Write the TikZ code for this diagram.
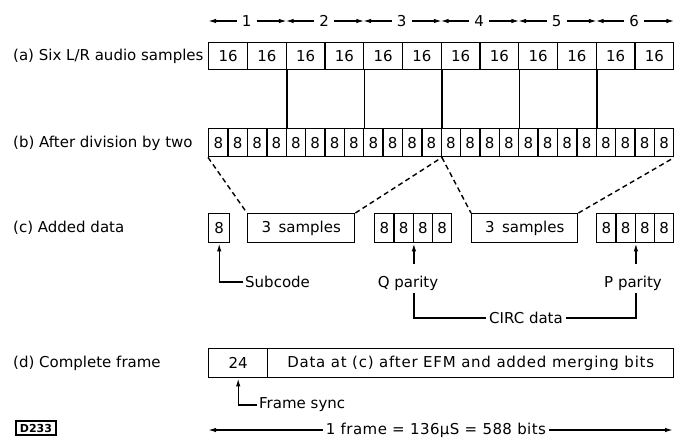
\documentclass[tikz,border=0pt]{standalone}
\usepackage{fontspec}
\setmainfont{DejaVu Sans}
\newfontfamily\widefont[LetterSpace=5]{DejaVu Sans}
\newfontfamily\midfont[LetterSpace=3]{DejaVu Sans}
\usetikzlibrary{arrows.meta}
\begin{document}
\begin{tikzpicture}[x=1pt,y=-1pt,
  every node/.style={font=\fontsize{15}{18}\selectfont},
  cell/.style={draw,line width=1.4pt,inner sep=0pt,anchor=north west},
  rowlbl/.style={inner sep=0pt,anchor=west},
  lbl/.style={inner sep=2pt},
  ln/.style={line width=1.4pt},
  arr/.style={line width=1.4pt,-{Latex[length=8pt,width=4.5pt]}},
  dsh/.style={line width=1.4pt,dash pattern=on 5pt off 3.5pt}]
\useasboundingbox (0,0) rectangle (674,438);

% row labels
\node[rowlbl] (la) at (13,56) {(a) Six L/R audio samples};
\node[rowlbl] (lb) at (13,143) {(b) After division by two};
\node[rowlbl] (lc) at (13,228) {(c) Added data};
\node[rowlbl] (ld) at (13,363) {(d) Complete frame};

% row (a)
\foreach \i in {1,...,12}
  \node[cell,minimum width=38.75pt,minimum height=27pt] (a\i) at ({208+(\i-1)*38.75},42) {16};
% row (b)
\foreach \i in {1,...,24}
  \node[cell,minimum width=19.375pt,minimum height=28pt] (b\i) at ({208+(\i-1)*19.375},128) {8};
% links a -> b
\foreach \k in {2,4,6,8,10} {
  \pgfmathtruncatemacro\m{2*\k}
  \draw[ln] (a\k.south east) -- (b\m.north east);
}

% top numbering
\foreach \k in {1,...,6} {
  \node[inner sep=5pt] (n\k) at ({208+(\k-0.5)*77.5},21) {\k};
  \pgfmathtruncatemacro\l{2*\k-1}
  \pgfmathtruncatemacro\r{2*\k}
  \draw[arr] (n\k.west) -- (a\l.north west |- n\k.west);
  \draw[arr] (n\k.east) -- (a\r.north east |- n\k.east);
}

% row (c)
\node[cell,minimum width=21pt,minimum height=29pt] (c8) at (208,213) {8};
\node[cell,minimum width=107pt,minimum height=29pt] (s1) at (247,213) {3\enspace samples};
\foreach \i in {1,...,4}
  \node[cell,minimum width=19.25pt,minimum height=29pt] (q\i) at ({374+(\i-1)*19.25},213) {8};
\node[cell,minimum width=106pt,minimum height=29pt] (s2) at (471,213) {3\enspace samples};
\foreach \i in {1,...,4}
  \node[cell,minimum width=19.25pt,minimum height=29pt] (p\i) at ({596+(\i-1)*19.25},213) {8};

% dashed expansions
\draw[dsh] (b1.south west) -- (s1.north west);
\draw[dsh] (s1.north east) -- (b12.south east);
\draw[dsh] (b12.south east) -- (s2.north west);
\draw[dsh] (s2.north east) -- (b24.south east);

% subcode
\node[lbl,anchor=west] (subc) at (243,282) {Subcode};
\draw[arr] (subc.west) -| (c8.south);

% parity
\node[lbl] (qlab) at (408,283) {Q parity};
\node[lbl] (plab) at (633,283) {P parity};
\draw[arr] ([yshift=-21pt]q2.south east) -- (q2.south east);
\draw[arr] ([yshift=-21pt]p2.south east) -- (p2.south east);
\node[lbl,inner sep=3pt] (circ) at (526,318) {CIRC data};
\draw[ln] ([yshift=-50pt]q2.south east) |- (circ.west);
\draw[ln] (circ.east) -| ([yshift=-50pt]p2.south east);

% row (d)
\node[cell,minimum width=59pt,minimum height=29pt] (d24) at (208,348) {24};
\node[cell,minimum width=406pt,minimum height=29pt] (dd) at (267,348) {\widefont Data at (c) after EFM and added merging bits};
\node[lbl,anchor=west] (fs) at (257,405) {Frame sync};
\draw[arr] (fs.west) -| (d24.south);

% frame dimension
\coordinate (dl) at (208,430);
\coordinate (dr) at (673,430);
\node[anchor=base,inner sep=3pt] (dim) at (436,434) {\midfont 1 frame = 136µS = 588 bits};
\draw[arr] (dl -| dim.west) -- (dl);
\draw[arr] (dr -| dim.east) -- (dr);

% figure code
\node[draw,line width=1.4pt,inner sep=1pt,minimum width=40pt,minimum height=14pt,
  font=\fontsize{11}{12}\selectfont\bfseries] (code) at (36,428) {D233};
\end{tikzpicture}
\end{document}
